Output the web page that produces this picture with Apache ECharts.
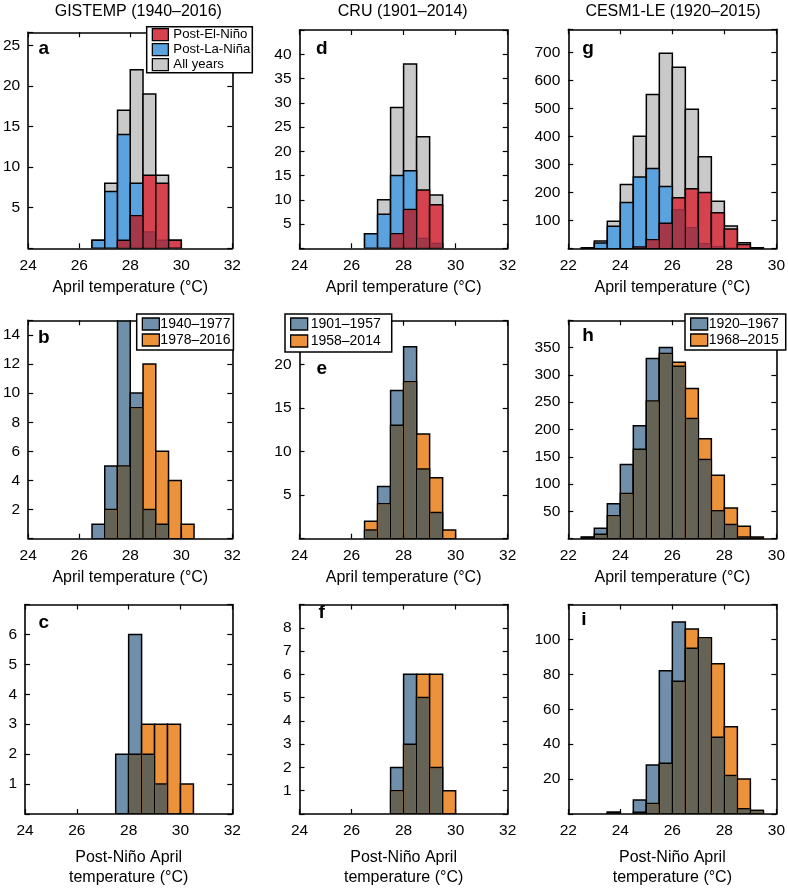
<!DOCTYPE html>
<html><head><meta charset="utf-8">
<script src="https://cdn.jsdelivr.net/npm/echarts@6/dist/echarts.min.js"></script>
<style>html,body{margin:0;padding:0;background:#fff}#c{width:788px;height:889px}</style>
</head><body><div id="c"></div>
<script>
// ---------- data ----------
const BIN_W = 0.5;
// left edges of histogram bins (°C)
const obsBins = [26.5, 27, 27.5, 28, 28.5, 29, 29.5, 30];
const modelBins = [22.5, 23, 23.5, 24, 24.5, 25, 25.5, 26, 26.5, 27, 27.5, 28, 28.5, 29];

// tick labels
const obsXTicks = [24, 26, 28, 30, 32];
const modelXTicks = [22, 24, 26, 28, 30];
const aYTicks = [5, 10, 15, 20, 25];
const dYTicks = [5, 10, 15, 20, 25, 30, 35, 40];
const gYTicks = [100, 200, 300, 400, 500, 600, 700];
const bYTicks = [2, 4, 6, 8, 10, 12, 14];
const eYTicks = [5, 10, 15, 20];
const hYTicks = [50, 100, 150, 200, 250, 300, 350];
const cYTicks = [1, 2, 3, 4, 5, 6];
const fYTicks = [1, 2, 3, 4, 5, 6, 7, 8];
const iYTicks = [20, 40, 60, 80, 100];

// column titles
const titles = ['GISTEMP (1940–2016)', 'CRU (1901–2014)', 'CESM1-LE (1920–2015)'];

// (a) GISTEMP
const gistempAll     = [1, 8, 17, 22, 19, 9, 1, 0];
const gistempLaNina  = [1, 7, 14, 8, 2, 1, 0, 0];
const gistempElNino  = [0, 0, 1, 4, 9, 8, 1, 0];
// (b) GISTEMP periods
const gistempEarly   = [1, 5, 19, 10, 2, 1, 0, 0];
const gistempLate    = [0, 2, 5, 9, 12, 6, 4, 1];
// (c) GISTEMP post-Niño
const gistempNinoEarly = [0, 0, 2, 6, 2, 1, 0, 0];
const gistempNinoLate  = [0, 0, 0, 2, 3, 3, 3, 1];

// (d) CRU
const cruAll    = [3, 10, 29, 38, 23, 11, 0, 0];
const cruLaNina = [3, 7, 15, 16, 2, 1, 0, 0];
const cruElNino = [0, 0, 3, 8, 12, 9, 0, 0];
// (e) CRU periods
const cruEarly  = [1, 6, 17, 22, 8, 3, 0, 0];
const cruLate   = [2, 4, 13, 18, 12, 7, 1, 0];
// (f) CRU post-Niño
const cruNinoEarly = [0, 0, 2, 6, 5, 2, 0, 0];
const cruNinoLate  = [0, 0, 1, 3, 6, 6, 1, 0];

// (g) CESM1-LE
const cesmAll    = [3, 27, 98, 229, 401, 550, 697, 647, 497, 328, 169, 81, 21, 3];
const cesmLaNina = [1, 20, 80, 165, 256, 286, 222, 139, 75, 18, 7, 2, 0, 0];
const cesmElNino = [0, 0, 0, 0, 6, 32, 91, 182, 214, 200, 128, 70, 15, 1];
// (h) CESM1-LE periods
const cesmEarly  = [3, 19, 64, 136, 207, 330, 350, 316, 220, 145, 51, 26, 3, 1];
const cesmLate   = [2, 8, 42, 83, 164, 252, 339, 323, 275, 183, 116, 56, 23, 3];
// (i) CESM1-LE post-Niño
const cesmNinoEarly = [0, 0, 1, 0, 8, 28, 82, 110, 95, 101, 44, 22, 3, 2];
const cesmNinoLate  = [0, 0, 1, 0, 1, 6, 29, 76, 106, 101, 86, 50, 20, 2];

// ---------- style ----------
const FONT = '"Liberation Sans", Arial, Helvetica, sans-serif';
const BAR_LW = 1.5, AX_LW = 1.6;
const C = {
  gray: '#c9c9c9', blue: '#5aa3de', red: '#d6424e', darkRed: '#a5374b', redEdge: '#962c40',
  steel: '#708faa', orange: '#ec923a', dark: '#646356'
};
const cols = [{left: 25, width: 207.3}, {left: 299.5, width: 208.2}, {left: 568.3, width: 208.4}];
const NAME1 = 'April temperature (°C)';
const NAME2 = 'Post-Niño April\ntemperature (°C)';

function ensoLayers(all, la, el, tag) {
  return {
    layers: [
      {name: tag + 'All years', data: all, color: C.gray},
      {name: tag + 'Post-La-Niña', data: la, color: C.blue},
      {name: tag + 'Post-El-Niño', data: el, color: C.red}
    ],
    overlap: {back: la, front: el, color: C.darkRed, edge: C.redEdge}
  };
}
function periodLayers(early, late, nEarly, nLate) {
  return {
    layers: [
      {name: nEarly, data: early, color: C.steel},
      {name: nLate, data: late, color: C.orange}
    ],
    overlap: {back: early, front: late, color: C.dark, edge: '#000'}
  };
}

const panels = [
  Object.assign({col: 0, top: 32.3, height: 216, xmin: 24, xmax: 32, xTicks: obsXTicks, ymax: 26.6, yInt: 5, yTicks: aYTicks,
    bins: obsBins, xName: NAME1, nameGap: 29, letter: 'a', letterPos: [43.8, 48.5],
    legend: {left: 146.7, top: 26.7, names: ['Post-El-Niño', 'Post-La-Niña', 'All years'], colors: [C.red, C.blue, C.gray],
      pad: [1, 2, 1, 5], textPad: 0, gap: 1, fs: 13.2, iw: 16}},
    ensoLayers(gistempAll, gistempLaNina, gistempElNino, '')),
  Object.assign({col: 1, top: 30, height: 218.3, xmin: 24, xmax: 32, xTicks: obsXTicks, ymax: 45, yInt: 5, yTicks: dYTicks,
    bins: obsBins, xName: NAME1, nameGap: 29, letter: 'd', letterPos: [321.7, 48.5]},
    ensoLayers(cruAll, cruLaNina, cruElNino, 'CRU ')),
  Object.assign({col: 2, top: 29.3, height: 219.4, xmin: 22, xmax: 30, xTicks: modelXTicks, ymax: 782, yInt: 100, yTicks: gYTicks,
    bins: modelBins, xName: NAME1, nameGap: 29, letter: 'g', letterPos: [588, 48.5]},
    ensoLayers(cesmAll, cesmLaNina, cesmElNino, 'CESM ')),
  Object.assign({col: 0, top: 320.3, height: 218.4, xmin: 24, xmax: 32, xTicks: obsXTicks, ymax: 15, yInt: 2, yTicks: bYTicks,
    bins: obsBins, xName: NAME1, nameGap: 29, letter: 'b', letterPos: [43.8, 337.5],
    legend: {left: 136.7, top: 314, names: ['1940–1977', '1978–2016'], colors: [C.steel, C.orange], pad: [3, 3, 3, 5], textPad: -4, gap: 2, fs: 14, iw: 17}},
    periodLayers(gistempEarly, gistempLate, '1940–1977', '1978–2016')),
  Object.assign({col: 1, top: 320.7, height: 218, xmin: 24, xmax: 32, xTicks: obsXTicks, ymax: 25, yInt: 5, yTicks: eYTicks,
    bins: obsBins, xName: NAME1, nameGap: 29, letter: 'e', letterPos: [321.7, 368.5],
    legend: {left: 285, top: 314, names: ['1901–1957', '1958–2014'], colors: [C.steel, C.orange], pad: [3, 11, 4, 5], textPad: -2, gap: 3, fs: 14, iw: 17}},
    periodLayers(cruEarly, cruLate, '1901–1957', '1958–2014')),
  Object.assign({col: 2, top: 320.3, height: 218.4, xmin: 22, xmax: 30, xTicks: modelXTicks, ymax: 400, yInt: 50, yTicks: hYTicks,
    bins: modelBins, xName: NAME1, nameGap: 29, letter: 'h', letterPos: [588, 336.2],
    legend: {left: 685, top: 314, names: ['1920–1967', '1968–2015'], colors: [C.steel, C.orange], pad: [3, 7, 3, 5], textPad: -4, gap: 2, fs: 14, iw: 17}},
    periodLayers(cesmEarly, cesmLate, '1920–1967', '1968–2015')),
  Object.assign({col: 0, top: 604.5, height: 218.2, xmin: 24, xmax: 32, xTicks: obsXTicks, ymax: 7, yInt: 1, yTicks: cYTicks,
    bins: obsBins, xName: NAME2, nameGap: 34, letter: 'c', letterPos: [43.8, 622.8]},
    periodLayers(gistempNinoEarly, gistempNinoLate, 'c early', 'c late')),
  Object.assign({col: 1, top: 604.5, height: 218.2, xmin: 24, xmax: 32, xTicks: obsXTicks, ymax: 9, yInt: 1, yTicks: fYTicks,
    bins: obsBins, xName: NAME2, nameGap: 34, letter: 'f', letterPos: [321.7, 612.8]},
    periodLayers(cruNinoEarly, cruNinoLate, 'f early', 'f late')),
  Object.assign({col: 2, top: 604.5, height: 218.2, xmin: 22, xmax: 30, xTicks: modelXTicks, ymax: 120, yInt: 20, yTicks: iYTicks,
    bins: modelBins, xName: NAME2, nameGap: 34, letter: 'i', letterPos: [584, 620.2]},
    periodLayers(cesmNinoEarly, cesmNinoLate, 'i early', 'i late'))
];

function layerRender(fill) {
  return function (params, api) {
    const h = api.value(2);
    if (!(h > 0)) return null;
    const p0 = api.coord([api.value(0), h]);
    const p1 = api.coord([api.value(1), 0]);
    return {type: 'rect', shape: {x: p0[0], y: p0[1], width: p1[0] - p0[0], height: p1[1] - p0[1]},
      style: {fill: fill, stroke: '#000', lineWidth: BAR_LW}};
  };
}
function overlapRender(fill, edge) {
  return function (params, api) {
    const back = api.value(2), front = api.value(3);
    const h = Math.min(back, front);
    if (!(h > 0)) return null;
    const p0 = api.coord([api.value(0), h]);
    const p1 = api.coord([api.value(1), 0]);
    const hw = BAR_LW / 2;
    const children = [{type: 'rect', shape: {x: p0[0] + hw, y: p0[1] + hw, width: p1[0] - p0[0] - 2 * hw, height: p1[1] - p0[1] - 2 * hw},
      style: {fill: fill}}];
    if (front > back) {
      children.push({type: 'line', shape: {x1: p0[0] + hw, y1: p0[1], x2: p1[0] - hw, y2: p0[1]},
        style: {stroke: edge, lineWidth: BAR_LW}});
    }
    return {type: 'group', children: children};
  };
}

const option = {animation: false, textStyle: {fontFamily: FONT},
  grid: [], xAxis: [], yAxis: [], series: [], legend: [], graphic: []};

panels.forEach(function (p, k) {
  const col = cols[p.col];
  option.grid.push({left: col.left, top: p.top, width: col.width, height: p.height, show: false});
  const axLine = {show: true, onZero: false, lineStyle: {color: '#000', width: AX_LW}};
  const tick = {show: true, inside: true, length: 5, lineStyle: {color: '#000', width: 1.2}};
  const base = {type: 'value', gridIndex: k, axisLine: axLine, axisTick: tick, splitLine: {show: false}, z: 3};
  option.xAxis.push(Object.assign({}, base, {position: 'bottom', min: p.xmin, max: p.xmax, interval: 2,
    axisLabel: {fontSize: 15.5, color: '#000', margin: 9, fontFamily: FONT,
      formatter: function (v) { return p.xTicks.indexOf(v) >= 0 ? String(v) : ''; }},
    name: p.xName, nameLocation: 'middle', nameGap: p.nameGap,
    nameTextStyle: {fontSize: 16, color: '#000', lineHeight: 20, fontFamily: FONT}}));
  option.xAxis.push(Object.assign({}, base, {position: 'top', min: p.xmin, max: p.xmax, interval: 2, axisLabel: {show: false}}));
  option.yAxis.push(Object.assign({}, base, {position: 'left', min: 0, max: p.ymax, interval: p.yInt,
    axisLabel: {fontSize: 15.5, color: '#000', margin: 8, fontFamily: FONT,
      formatter: function (v) { return p.yTicks.indexOf(v) >= 0 ? String(v) : ''; }}}));
  option.yAxis.push(Object.assign({}, base, {position: 'right', min: 0, max: p.ymax, interval: p.yInt, axisLabel: {show: false}}));

  p.layers.forEach(function (L) {
    option.series.push({type: 'custom', name: L.name, xAxisIndex: 2 * k, yAxisIndex: 2 * k, clip: true,
      itemStyle: {color: L.color, borderColor: '#000', borderWidth: BAR_LW}, renderItem: layerRender(L.color),
      data: p.bins.map(function (b, i) { return [b, b + BIN_W, L.data[i]]; })});
  });
  const O = p.overlap;
  option.series.push({type: 'custom', name: 'overlap ' + p.letter, xAxisIndex: 2 * k, yAxisIndex: 2 * k, clip: true,
    renderItem: overlapRender(O.color, O.edge),
    data: p.bins.map(function (b, i) { return [b, b + BIN_W, O.back[i], O.front[i]]; })});

  if (p.legend) {
    const lg = p.legend;
    option.legend.push({orient: 'vertical', left: lg.left, top: lg.top, padding: lg.pad, itemGap: lg.gap,
      itemWidth: lg.iw, itemHeight: 12, icon: 'rect', backgroundColor: '#fff', borderColor: '#000', borderWidth: 1.5,
      selectedMode: false, z: 6,
      textStyle: {fontSize: lg.fs, color: '#000', lineHeight: 14, fontFamily: FONT, padding: [0, 0, 0, lg.textPad]},
      data: lg.names.map(function (n, i) { return {name: n, itemStyle: {color: lg.colors[i], borderColor: '#000', borderWidth: 1.3}}; })});
  }
  option.graphic.push({type: 'text', x: p.letterPos[0], y: p.letterPos[1], z: 10,
    style: {text: p.letter, fontSize: 19, fontWeight: 'bold', fontFamily: FONT, fill: '#000', align: 'center', verticalAlign: 'middle'}});
});

const titleX = [138.3, 402.7, 673];
titles.forEach(function (t, i) {
  option.graphic.push({type: 'text', x: titleX[i], y: 11.5, z: 10,
    style: {text: t, fontSize: 16, fontFamily: FONT, fill: '#000', align: 'center', verticalAlign: 'middle'}});
});

const chart = echarts.init(document.getElementById('c'), null, {renderer: 'canvas'});
chart.setOption(option);
</script></body></html>
